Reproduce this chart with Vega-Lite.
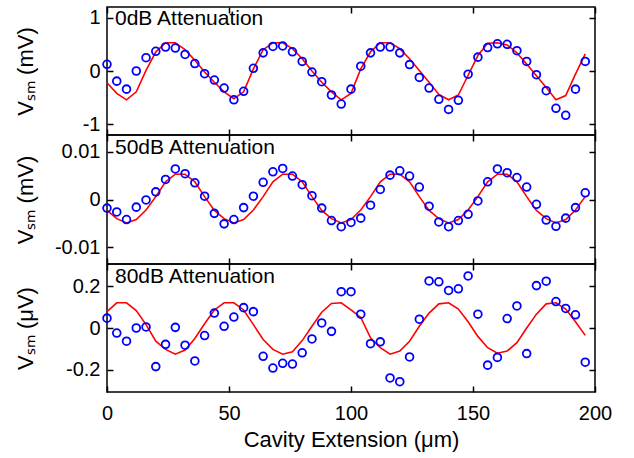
{
  "$schema": "https://vega.github.io/schema/vega-lite/v6.json",
  "padding": {"left": 13, "top": 5, "right": 5, "bottom": 5},
  "background": "white",
  "spacing": 0,
  "bounds": "flush",
  "config": {
    "font": "Liberation Sans",
    "view": {"stroke": "black", "strokeWidth": 1.5},
    "axis": {
      "domain": false, "grid": false, "ticks": true, "tickSize": 6, "offset": -6, "tickColor": "black", "tickWidth": 1.5,
      "labelFontSize": 20, "labelColor": "black", "labelFont": "Liberation Sans", "labelFlush": false, "labelOverlap": false,
      "titleFont": "Liberation Sans", "titleFontSize": 22, "titleFontWeight": "normal", "titleColor": "black",
      "labelExpr": "replace(datum.label, '−', '-')"
    },
    "axisY": {"labelPadding": 7, "format": "~g"},
    "axisX": {"labelPadding": 11, "format": "d"}
  },
  "datasets": {
    "p1": [
      {"x": 0, "v": 0.125, "fit": -0.22}, {"x": 4, "v": -0.19, "fit": -0.42}, {"x": 8, "v": -0.34, "fit": -0.54},
      {"x": 12, "v": 0.0, "fit": -0.39}, {"x": 16, "v": 0.25, "fit": 0.01}, {"x": 20, "v": 0.37, "fit": 0.36},
      {"x": 24, "v": 0.45, "fit": 0.53}, {"x": 28, "v": 0.43, "fit": 0.53}, {"x": 32, "v": 0.31, "fit": 0.40},
      {"x": 36, "v": 0.14, "fit": 0.20}, {"x": 40, "v": -0.05, "fit": -0.02}, {"x": 44, "v": -0.17, "fit": -0.21},
      {"x": 48, "v": -0.32, "fit": -0.39}, {"x": 52, "v": -0.54, "fit": -0.52}, {"x": 56, "v": -0.38, "fit": -0.39},
      {"x": 60, "v": 0.05, "fit": 0.04}, {"x": 64, "v": 0.34, "fit": 0.40}, {"x": 68, "v": 0.46, "fit": 0.53},
      {"x": 72, "v": 0.47, "fit": 0.53}, {"x": 76, "v": 0.36, "fit": 0.42}, {"x": 80, "v": 0.18, "fit": 0.23},
      {"x": 84, "v": -0.02, "fit": 0.0}, {"x": 88, "v": -0.2, "fit": -0.21}, {"x": 92, "v": -0.45, "fit": -0.39},
      {"x": 96, "v": -0.62, "fit": -0.54}, {"x": 100, "v": -0.34, "fit": -0.42}, {"x": 104, "v": 0.09, "fit": 0.04},
      {"x": 108, "v": 0.34, "fit": 0.36}, {"x": 112, "v": 0.45, "fit": 0.53}, {"x": 116, "v": 0.45, "fit": 0.53},
      {"x": 120, "v": 0.34, "fit": 0.42}, {"x": 124, "v": 0.12, "fit": 0.23}, {"x": 128, "v": -0.12, "fit": 0.01},
      {"x": 132, "v": -0.32, "fit": -0.21}, {"x": 136, "v": -0.53, "fit": -0.44}, {"x": 140, "v": -0.72, "fit": -0.54},
      {"x": 144, "v": -0.55, "fit": -0.45}, {"x": 148, "v": -0.06, "fit": -0.08}, {"x": 152, "v": 0.26, "fit": 0.29},
      {"x": 156, "v": 0.44, "fit": 0.52}, {"x": 160, "v": 0.51, "fit": 0.53}, {"x": 164, "v": 0.50, "fit": 0.49},
      {"x": 168, "v": 0.38, "fit": 0.34}, {"x": 172, "v": 0.18, "fit": 0.13}, {"x": 176, "v": -0.07, "fit": -0.09},
      {"x": 180, "v": -0.37, "fit": -0.31}, {"x": 184, "v": -0.70, "fit": -0.54}, {"x": 188, "v": -0.83, "fit": -0.46},
      {"x": 192, "v": -0.34, "fit": -0.06}, {"x": 196, "v": 0.18, "fit": 0.32}
    ],
    "p2": [
      {"x": 0, "v": -0.0018, "fit": -0.0023}, {"x": 4, "v": -0.0026, "fit": -0.0040}, {"x": 8, "v": -0.0042, "fit": -0.0049},
      {"x": 12, "v": -0.0016, "fit": -0.0042}, {"x": 16, "v": -0.0001, "fit": -0.0022}, {"x": 20, "v": 0.0016, "fit": 0.0006},
      {"x": 24, "v": 0.0042, "fit": 0.0037}, {"x": 28, "v": 0.0064, "fit": 0.0053}, {"x": 32, "v": 0.0054, "fit": 0.0053},
      {"x": 36, "v": 0.0035, "fit": 0.0037}, {"x": 40, "v": 0.0007, "fit": 0.0006}, {"x": 44, "v": -0.0029, "fit": -0.0023},
      {"x": 48, "v": -0.0051, "fit": -0.0040}, {"x": 52, "v": -0.0042, "fit": -0.0049}, {"x": 56, "v": -0.0017, "fit": -0.0042},
      {"x": 60, "v": 0.0007, "fit": -0.0022}, {"x": 64, "v": 0.0036, "fit": 0.0006}, {"x": 68, "v": 0.0058, "fit": 0.0037},
      {"x": 72, "v": 0.0065, "fit": 0.0053}, {"x": 76, "v": 0.0049, "fit": 0.0053}, {"x": 80, "v": 0.0031, "fit": 0.0037},
      {"x": 84, "v": 0.0008, "fit": 0.0006}, {"x": 88, "v": -0.0018, "fit": -0.0023}, {"x": 92, "v": -0.0044, "fit": -0.0040},
      {"x": 96, "v": -0.0057, "fit": -0.0049}, {"x": 100, "v": -0.0048, "fit": -0.0042}, {"x": 104, "v": -0.0039, "fit": -0.0022},
      {"x": 108, "v": -0.0012, "fit": 0.0006}, {"x": 112, "v": 0.0021, "fit": 0.0037}, {"x": 116, "v": 0.0051, "fit": 0.0053},
      {"x": 120, "v": 0.0060, "fit": 0.0053}, {"x": 124, "v": 0.0049, "fit": 0.0037}, {"x": 128, "v": 0.0026, "fit": 0.0006},
      {"x": 132, "v": -0.0014, "fit": -0.0023}, {"x": 136, "v": -0.0047, "fit": -0.0040}, {"x": 140, "v": -0.0057, "fit": -0.0049},
      {"x": 144, "v": -0.0044, "fit": -0.0042}, {"x": 148, "v": -0.0031, "fit": -0.0022}, {"x": 152, "v": -0.0003, "fit": 0.0006},
      {"x": 156, "v": 0.0037, "fit": 0.0037}, {"x": 160, "v": 0.0064, "fit": 0.0053}, {"x": 164, "v": 0.0056, "fit": 0.0053},
      {"x": 168, "v": 0.0046, "fit": 0.0037}, {"x": 172, "v": 0.0026, "fit": 0.0006}, {"x": 176, "v": -0.0010, "fit": -0.0023},
      {"x": 180, "v": -0.0043, "fit": -0.0040}, {"x": 184, "v": -0.0056, "fit": -0.0049}, {"x": 188, "v": -0.0039, "fit": -0.0042},
      {"x": 192, "v": -0.0017, "fit": -0.0022}, {"x": 196, "v": 0.0014, "fit": 0.0006}
    ],
    "p3": [
      {"x": 0, "v": 0.047, "fit": 0.078}, {"x": 4, "v": -0.024, "fit": 0.12}, {"x": 8, "v": -0.063, "fit": 0.12},
      {"x": 12, "v": 0.0, "fit": 0.083}, {"x": 16, "v": 0.005, "fit": 0.016}, {"x": 20, "v": -0.184, "fit": -0.063},
      {"x": 24, "v": -0.078, "fit": -0.102}, {"x": 28, "v": 0.003, "fit": -0.125}, {"x": 32, "v": -0.082, "fit": -0.105},
      {"x": 36, "v": -0.157, "fit": -0.05}, {"x": 40, "v": -0.036, "fit": 0.02}, {"x": 44, "v": 0.071, "fit": 0.086},
      {"x": 48, "v": 0.008, "fit": 0.12}, {"x": 52, "v": 0.052, "fit": 0.12}, {"x": 56, "v": 0.097, "fit": 0.086},
      {"x": 60, "v": 0.078, "fit": 0.016}, {"x": 64, "v": -0.135, "fit": -0.055}, {"x": 68, "v": -0.191, "fit": -0.102},
      {"x": 72, "v": -0.168, "fit": -0.125}, {"x": 76, "v": -0.172, "fit": -0.113}, {"x": 80, "v": -0.118, "fit": -0.06},
      {"x": 84, "v": -0.052, "fit": 0.008}, {"x": 88, "v": 0.024, "fit": 0.075}, {"x": 92, "v": -0.016, "fit": 0.117},
      {"x": 96, "v": 0.173, "fit": 0.12}, {"x": 100, "v": 0.173, "fit": 0.086}, {"x": 104, "v": 0.066, "fit": 0.05},
      {"x": 108, "v": -0.075, "fit": -0.047}, {"x": 112, "v": -0.066, "fit": -0.094}, {"x": 116, "v": -0.238, "fit": -0.125},
      {"x": 120, "v": -0.256, "fit": -0.11}, {"x": 124, "v": -0.138, "fit": -0.063}, {"x": 128, "v": 0.042, "fit": 0.008},
      {"x": 132, "v": 0.224, "fit": 0.071}, {"x": 136, "v": 0.22, "fit": 0.115}, {"x": 140, "v": 0.179, "fit": 0.12},
      {"x": 144, "v": 0.187, "fit": 0.09}, {"x": 148, "v": 0.248, "fit": 0.03}, {"x": 152, "v": 0.066, "fit": -0.04},
      {"x": 156, "v": -0.177, "fit": -0.094}, {"x": 160, "v": -0.140, "fit": -0.12}, {"x": 164, "v": 0.045, "fit": -0.11},
      {"x": 168, "v": 0.105, "fit": -0.07}, {"x": 172, "v": -0.122, "fit": 0.0}, {"x": 176, "v": 0.202, "fit": 0.066},
      {"x": 180, "v": 0.223, "fit": 0.115}, {"x": 184, "v": 0.126, "fit": 0.12}, {"x": 188, "v": 0.093, "fit": 0.09},
      {"x": 192, "v": 0.063, "fit": 0.03}, {"x": 196, "v": -0.163, "fit": -0.035}
    ]
  },
  "vconcat": [
    {
      "width": 488, "height": 128,
      "data": {"name": "p1"},
      "layer": [
        {
          "mark": {"type": "line", "color": "#ff0000", "strokeWidth": 1.6},
          "encoding": {
            "x": {"field": "x", "type": "quantitative", "scale": {"domain": [0, 200], "nice": false}, "axis": {"orient": "bottom", "values": [0, 50, 100, 150, 200], "labels": false, "title": null}},
            "y": {"field": "fit", "type": "quantitative", "scale": {"domain": [-1.2, 1.2], "nice": false, "zero": false}, "axis": {"orient": "left", "values": [-1, 0, 1], "title": "Vₛₘ (mV)", "titleX": -76}}
          }
        },
        {
          "mark": {"type": "point", "shape": "circle", "filled": false, "color": "#0000ff", "size": 60, "strokeWidth": 1.8, "opacity": 1},
          "encoding": {
            "x": {"field": "x", "type": "quantitative", "scale": {"domain": [0, 200], "nice": false}, "axis": {"orient": "top", "values": [0, 50, 100, 150, 200], "labels": false, "title": null}},
            "y": {"field": "v", "type": "quantitative", "scale": {"domain": [-1.2, 1.2], "nice": false, "zero": false}, "axis": {"orient": "right", "values": [-1, 0, 1], "labels": false, "title": null}}
          }
        },
        {
          "data": {"values": [{}]},
          "mark": {"type": "text", "text": "0dB Attenuation", "align": "left", "baseline": "alphabetic", "dx": 8, "dy": 18, "fontSize": 21, "color": "black"},
          "encoding": {
            "x": {"datum": 0, "type": "quantitative", "axis": null},
            "y": {"datum": 1.2, "type": "quantitative", "axis": null}
          }
        }
      ],
      "resolve": {"axis": {"x": "independent", "y": "independent"}}
    },
    {
      "width": 488, "height": 129,
      "data": {"name": "p2"},
      "layer": [
        {
          "mark": {"type": "line", "color": "#ff0000", "strokeWidth": 1.6},
          "encoding": {
            "x": {"field": "x", "type": "quantitative", "scale": {"domain": [0, 200], "nice": false}, "axis": {"orient": "bottom", "values": [0, 50, 100, 150, 200], "labels": false, "title": null}},
            "y": {"field": "fit", "type": "quantitative", "scale": {"domain": [-0.0135, 0.0135], "nice": false, "zero": false}, "axis": {"orient": "left", "values": [-0.01, 0, 0.01], "title": "Vₛₘ (mV)", "titleX": -76}}
          }
        },
        {
          "mark": {"type": "point", "shape": "circle", "filled": false, "color": "#0000ff", "size": 60, "strokeWidth": 1.8, "opacity": 1},
          "encoding": {
            "x": {"field": "x", "type": "quantitative", "scale": {"domain": [0, 200], "nice": false}, "axis": {"orient": "top", "values": [0, 50, 100, 150, 200], "labels": false, "title": null}},
            "y": {"field": "v", "type": "quantitative", "scale": {"domain": [-0.0135, 0.0135], "nice": false, "zero": false}, "axis": {"orient": "right", "values": [-0.01, 0, 0.01], "labels": false, "title": null}}
          }
        },
        {
          "data": {"values": [{}]},
          "mark": {"type": "text", "text": "50dB Attenuation", "align": "left", "baseline": "alphabetic", "dx": 8, "dy": 19, "fontSize": 21, "color": "black"},
          "encoding": {
            "x": {"datum": 0, "type": "quantitative", "axis": null},
            "y": {"datum": 0.0135, "type": "quantitative", "axis": null}
          }
        }
      ],
      "resolve": {"axis": {"x": "independent", "y": "independent"}}
    },
    {
      "width": 488, "height": 128,
      "data": {"name": "p3"},
      "layer": [
        {
          "mark": {"type": "line", "color": "#ff0000", "strokeWidth": 1.6},
          "encoding": {
            "x": {"field": "x", "type": "quantitative", "scale": {"domain": [0, 200], "nice": false}, "axis": {"orient": "bottom", "values": [0, 50, 100, 150, 200], "title": "Cavity Extension (μm)", "titlePadding": 6}},
            "y": {"field": "fit", "type": "quantitative", "scale": {"domain": [-0.305, 0.305], "nice": false, "zero": false}, "axis": {"orient": "left", "values": [-0.2, 0, 0.2], "title": "Vₛₘ (μV)", "titleX": -76}}
          }
        },
        {
          "mark": {"type": "point", "shape": "circle", "filled": false, "color": "#0000ff", "size": 60, "strokeWidth": 1.8, "opacity": 1},
          "encoding": {
            "x": {"field": "x", "type": "quantitative", "scale": {"domain": [0, 200], "nice": false}, "axis": {"orient": "top", "values": [0, 50, 100, 150, 200], "labels": false, "title": null}},
            "y": {"field": "v", "type": "quantitative", "scale": {"domain": [-0.305, 0.305], "nice": false, "zero": false}, "axis": {"orient": "right", "values": [-0.2, 0, 0.2], "labels": false, "title": null}}
          }
        },
        {
          "data": {"values": [{}]},
          "mark": {"type": "text", "text": "80dB Attenuation", "align": "left", "baseline": "alphabetic", "dx": 8, "dy": 19, "fontSize": 21, "color": "black"},
          "encoding": {
            "x": {"datum": 0, "type": "quantitative", "axis": null},
            "y": {"datum": 0.305, "type": "quantitative", "axis": null}
          }
        }
      ],
      "resolve": {"axis": {"x": "independent", "y": "independent"}}
    }
  ]
}
